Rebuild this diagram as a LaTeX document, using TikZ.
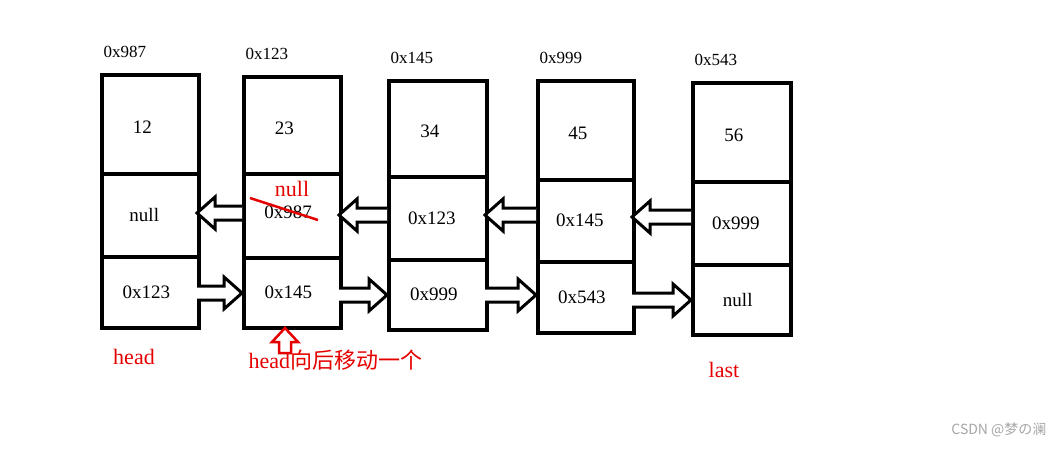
\documentclass[tikz,border=0pt]{standalone}
\usepackage{fontspec}
\setmainfont{Liberation Serif}
\newfontfamily\cjk{Noto Sans CJK SC}
\begin{document}
\begin{tikzpicture}[x=1pt,y=-1pt,
  cell/.style={draw,line width=3.5pt,inner sep=0pt},
  blk/.style={draw,line width=3pt,fill=white,line join=miter},
  addr/.style={font=\fontsize{17}{17}\selectfont},
  val/.style={font=\fontsize{19}{19}\selectfont},
  red/.style={text=red!90!black,font=\fontsize{22}{22}\selectfont}]
\useasboundingbox (0,0) rectangle (1061,448);
\newcommand\rarr[3]{\draw[blk] (#1,{#3-7}) -- ({#2-18},{#3-7}) -- ({#2-18},{#3-16}) -- (#2,#3) -- ({#2-18},{#3+16}) -- ({#2-18},{#3+7}) -- (#1,{#3+7});}
\newcommand\larr[3]{\draw[blk] (#1,{#3-7}) -- ({#2+18},{#3-7}) -- ({#2+18},{#3-16}) -- (#2,#3) -- ({#2+18},{#3+16}) -- ({#2+18},{#3+7}) -- (#1,{#3+7});}
\foreach \n/\xa/\xb/\t/\sa/\sb/\bo/\v/\m/\l/\ad in {
 1/100/197/73/172/255/326/12/null/0x123/0x987,
 2/242/339/75/172/256/326/23/{}/0x145/0x123,
 3/387/485/79/175/258/328/34/0x123/0x999/0x145,
 4/536/632/79/178/260/331/45/0x145/0x543/0x999,
 5/691/789/81/180/263/333/56/0x999/null/0x543}{
  \node[cell,minimum width={\xb-\xa},minimum height={\sa-\t},anchor=north west] (v\n) at (\xa,\t) {};
  \node[cell,minimum width={\xb-\xa},minimum height={\sb-\sa},anchor=north west] (m\n) at (\xa,\sa) {};
  \node[cell,minimum width={\xb-\xa},minimum height={\sb-\sa},anchor=north west,draw=none] at (\xa,\sa) {};
  \node[cell,minimum width={\xb-\xa},minimum height={\bo-\sb},anchor=north west] (l\n) at (\xa,\sb) {};
  \node[val] at ([xshift=-8,yshift=-3]v\n.center) {\v};
  \node[val] at ([xshift=-6]m\n.center) {\m};
  \node[val] at ([xshift=-4]l\n.center) {\l};
  \node[addr,anchor=south west] (a\n) at ({\xa},{\t-12}) {\ad};
}
\node[val] (old) at (288,212) {0x987};
\node[red] (nl) at (292,189) {null};
\draw[red!90!black,line width=2.5pt] (250,198) -- (318,220);
\rarr{197}{242}{293}
\rarr{339}{387}{295}
\rarr{485}{536}{295}
\rarr{632}{691}{300}
\larr{242}{197}{213}
\larr{387}{339}{215}
\larr{536}{485}{215}
\larr{691}{632}{217}
\draw[draw=red!90!black,line width=2.5pt,fill=white] (279,353) -- (279,342) -- (272,342) -- (285,328) -- (298,342) -- (291,342) -- (291,353) -- cycle;
\node[red] (hd) at (134,357) {head};
\node[red,anchor=west] (hd2) at (245,360) {head{\cjk 向后移动一个}};
\node[red] (ls) at (724,370) {last};
\node[text=gray!70,font=\cjk\fontsize{14}{14}\selectfont,anchor=east] (wm) at (1050,430) {CSDN @梦の澜};
\end{tikzpicture}
\end{document}
